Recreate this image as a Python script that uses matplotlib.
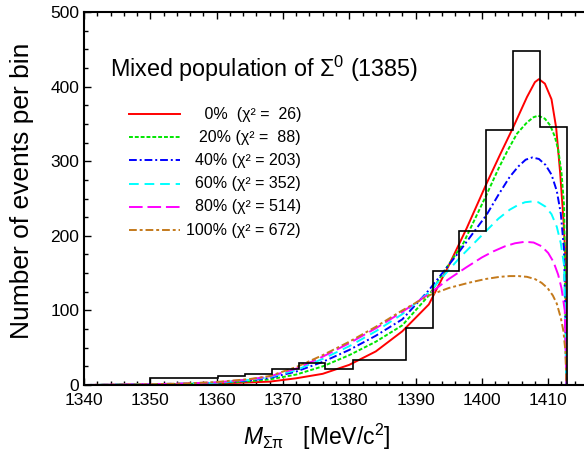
import numpy as np
import matplotlib.pyplot as plt
from matplotlib.ticker import MultipleLocator

plt.switch_backend('agg')
plt.rcParams['font.family'] = ['Liberation Sans', 'DejaVu Sans']
plt.rcParams['mathtext.fontset'] = 'custom'
plt.rcParams['mathtext.rm'] = 'Liberation Sans'
plt.rcParams['mathtext.it'] = 'Liberation Sans:italic'
plt.rcParams['xtick.direction'] = 'in'
plt.rcParams['ytick.direction'] = 'in'

# histogram (data)
hist_edges = [1350.0, 1356.2, 1360.2, 1364.3, 1368.3, 1372.4, 1376.4, 1380.5,
              1384.5, 1388.6, 1392.6, 1396.6, 1400.6, 1404.7, 1408.7, 1412.8]
hist_counts = [9, 10, 12.5, 15, 21, 30, 22, 33, 33, 77, 153, 207, 342, 448, 346]

# fitted curves for different mixtures
m_red = [1340, 1350, 1355, 1360, 1365, 1368, 1372, 1376, 1380, 1384, 1388, 1392, 1395,
         1397.7, 1400.7, 1402.7, 1404.7, 1406.8, 1408.0, 1408.6, 1409.5, 1410.5, 1411.2,
         1411.8, 1412.3, 1412.6, 1412.75]
n_red = [0, 0.5, 1, 2, 3.5, 4.5, 9, 15, 27, 45, 72, 108, 160,
         210, 270, 308, 345, 386, 406, 410, 404, 383, 345, 285, 222, 170, 0]

m_green = [1340, 1350, 1355, 1360, 1365, 1368, 1372, 1376, 1380, 1384, 1388, 1392, 1394.5,
           1397.2, 1400.7, 1402.5, 1403.8, 1405.3, 1406.8, 1407.8, 1408.5, 1409.5, 1410.3,
           1411.0, 1411.5, 1412.0, 1412.4, 1412.75]
n_green = [0, 0.7, 1.3, 2.5, 5, 7.5, 14, 25, 40, 58, 80, 120, 155,
           190, 255, 290, 313, 337, 352, 359, 361, 357, 348, 333, 316, 285, 240, 0]

m_blue = [1340, 1350, 1355, 1360, 1365, 1368, 1372, 1376, 1380, 1384, 1388, 1392, 1396.7,
          1400.7, 1402.5, 1404.2, 1405.5, 1406.6, 1407.6, 1408.6, 1409.6, 1410.5, 1411.3,
          1411.9, 1412.4, 1412.75]
n_blue = [0, 0.8, 1.6, 3, 6, 9.5, 18, 31, 47, 66, 88, 127, 180,
          228, 255, 279, 293, 302, 305, 303, 295, 282, 260, 230, 180, 0]

m_cyan = [1340, 1350, 1355, 1360, 1365, 1368, 1372, 1376, 1380, 1384, 1388, 1392, 1394.5,
          1396.7, 1400.7, 1402.5, 1404.2, 1405.4, 1406.5, 1407.5, 1408.5, 1409.6, 1410.5,
          1411.3, 1411.9, 1412.4, 1412.75]
n_cyan = [0, 1, 2, 3, 7, 10.5, 20, 35, 52, 72, 95, 124, 149,
          171, 207, 223, 235, 241, 245, 246, 245, 239, 229, 212, 190, 160, 0]

m_magenta = [1340, 1350, 1355, 1360, 1365, 1368, 1372, 1376, 1380, 1384, 1388, 1392, 1395,
             1397.7, 1400, 1401.7, 1403.5, 1405, 1406.5, 1407.8, 1409.0, 1410.0, 1410.8,
             1411.5, 1412.0, 1412.5, 1412.75]
n_magenta = [0, 1, 2, 3.5, 7.5, 11.5, 22, 38, 56, 76, 98, 122, 142,
             158, 171, 179, 186, 190, 192, 191, 186, 177, 165, 148, 130, 100, 0]

m_brown = [1340, 1350, 1355, 1360, 1365, 1368, 1372, 1376, 1380, 1384, 1388, 1392, 1395,
           1398, 1400.5, 1402.7, 1404.2, 1405.5, 1406.8, 1408.0, 1409.0, 1409.9, 1410.7,
           1411.3, 1411.9, 1412.3, 1412.6, 1412.75]
n_brown = [0, 1, 2, 4, 8, 12, 24, 40, 58, 78, 100, 120, 130,
           137, 142, 145, 146, 146, 145, 142, 137, 130, 120, 109, 90, 72, 45, 0]

labels = [" 0%  (\u03c7\u00b2 =  26)", "20% (\u03c7\u00b2 =  88)", "40% (\u03c7\u00b2 = 203)",
          "60% (\u03c7\u00b2 = 352)", "80% (\u03c7\u00b2 = 514)", "100% (\u03c7\u00b2 = 672)"]

curves = [(m_red, n_red, '#ff0000', '-'),
          (m_green, n_green, '#00e600', (0, (2, 1))),
          (m_blue, n_blue, '#0000ff', (0, (4, 1.5, 1, 1.5))),
          (m_cyan, n_cyan, '#00ffff', (0, (5, 3))),
          (m_magenta, n_magenta, '#ff00ff', (0, (7, 2.5))),
          (m_brown, n_brown, '#c47a1c', (0, (4, 1.5, 1.5, 1.5)))]

fig = plt.figure(figsize=(5.84, 4.55), dpi=100)
ax = fig.add_axes([84 / 584, (455 - 385) / 455, 500 / 584, (385 - 12) / 455])

ax.stairs(hist_counts, hist_edges, color='k', lw=1.2, zorder=3)

for m, n, c, ls in curves:
    ax.plot(m, n, color=c, linestyle=ls, lw=1.4, zorder=2)

# legend drawn by hand: samples on the left, right-aligned text
for i, (lab, (m, n, c, ls)) in enumerate(zip(labels, curves)):
    yy = 0.7265 - i * 0.0622
    ax.plot([0.09, 0.192], [yy, yy], color=c, linestyle=ls, lw=1.4, transform=ax.transAxes)
    ax.text(0.434, yy, lab, ha='right', va='center', fontsize=11.5, transform=ax.transAxes)

ax.text(0.052, 0.847, "Mixed population of \u03a3$^0$ (1385)", fontsize=16.8,
        ha='left', va='center', transform=ax.transAxes)

ax.set_xlim(1340, 1415.4)
ax.set_ylim(0, 500)
ax.xaxis.set_major_locator(MultipleLocator(10))
ax.xaxis.set_minor_locator(MultipleLocator(2))
ax.yaxis.set_major_locator(MultipleLocator(100))
ax.yaxis.set_minor_locator(MultipleLocator(25))
ax.tick_params(which='both', top=True, right=False, width=1, labelsize=12.5)
ax.tick_params(which='major', length=5)
ax.tick_params(which='minor', length=3)
ax.tick_params(axis='x', pad=6)
for s in ['left', 'bottom', 'top']:
    ax.spines[s].set_linewidth(1.5)
ax.spines['right'].set_visible(False)

ax.set_xlabel(r"$M_{\mathrm{\Sigma\pi}}$   [MeV/c$^2$]", fontsize=16.5)
ax.xaxis.set_label_coords(0.466, -0.1)
ax.set_ylabel("Number of events per bin", fontsize=19)
ax.yaxis.set_label_coords(-0.1, 0.52)

plt.savefig("out.png", dpi=100)
